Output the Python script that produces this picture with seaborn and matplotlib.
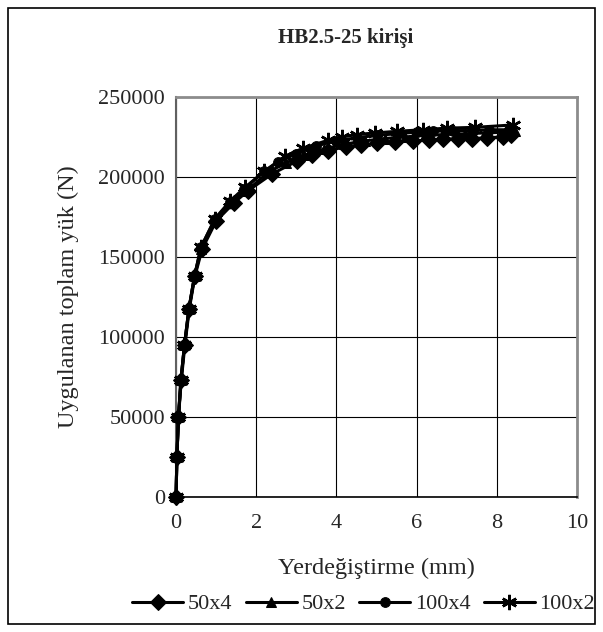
import matplotlib
matplotlib.use('Agg')
import matplotlib.pyplot as plt
import seaborn as sns
import pandas as pd
from matplotlib.patches import Rectangle

# Data (displacement in mm, total load in N)
x_50x4 = [0, 0.02, 0.06, 0.13, 0.22, 0.33, 0.47, 0.65, 1.0, 1.45, 1.8, 2.4, 3.02, 3.4, 3.8,
          4.25, 4.6, 5.0, 5.45, 5.9, 6.3, 6.65, 7.03, 7.38, 7.75, 8.15, 8.35]
y_50x4 = [0, 25000, 50000, 73000, 95000, 117500, 138000, 155000, 172500, 184000, 191500, 202000,
          210000, 213500, 216500, 219000, 220000, 221000, 222000, 222500, 223000, 223500, 224000,
          224000, 224500, 225000, 226000]

x_50x2 = [0, 0.02, 0.06, 0.12, 0.21, 0.32, 0.46, 0.63, 0.98, 1.4, 1.75, 2.3, 2.75, 3.2, 3.7,
          4.2, 4.7, 5.2, 5.7, 6.2, 6.7, 7.2, 7.7, 8.2, 8.45]
y_50x2 = [0, 25000, 50000, 73000, 95000, 117500, 138000, 155000, 173000, 184500, 191000, 203000,
          209000, 213500, 217500, 220500, 222500, 224000, 225000, 226000, 226500, 227000, 227500,
          228000, 228500]

x_100x4 = [0, 0.02, 0.06, 0.12, 0.21, 0.32, 0.46, 0.62, 0.97, 1.35, 1.7, 2.2, 2.55, 3.0, 3.5,
           4.0, 4.5, 5.0, 5.5, 6.0, 6.4, 6.9, 7.4, 7.8, 8.3]
y_100x4 = [0, 25000, 50000, 73000, 95000, 117500, 138000, 156000, 173500, 184500, 192500, 203500,
           209500, 214500, 219500, 222500, 224500, 226000, 227000, 228000, 228500, 229000, 229000,
           229500, 229500]

x_100x2 = [0, 0.02, 0.06, 0.12, 0.21, 0.32, 0.46, 0.62, 0.97, 1.35, 1.72, 2.2, 2.72, 3.17, 3.8,
           4.15, 4.5, 4.96, 5.5, 6.15, 6.75, 7.45, 8.4]
y_100x2 = [0, 25000, 50000, 73000, 95000, 117500, 138000, 156000, 174000, 185000, 193500, 203500,
           213000, 218000, 223000, 225000, 226500, 227500, 228500, 229500, 230500, 231000, 232500]

series_names = ['50x4', '50x2', '100x4', '100x2']
xs = [x_50x4, x_50x2, x_100x4, x_100x2]
ys = [y_50x4, y_50x2, y_100x4, y_100x2]

x_ticks = [0, 2, 4, 6, 8, 10]
y_ticks = [0, 50000, 100000, 150000, 200000, 250000]

sns.set_style('white')
plt.rcParams['font.family'] = ['Liberation Serif', 'DejaVu Serif']

fig = plt.figure(figsize=(6.03, 6.32), dpi=100)
ax = fig.add_axes([0.292, 0.2136, 0.665, 0.633])

# marker styles per series
styles = {
    '50x4': dict(marker='D', markersize=8),
    '50x2': dict(marker='^', markersize=7),
    '100x4': dict(marker='o', markersize=7),
    '100x2': dict(marker=(6, 2, 0), markersize=11, markeredgewidth=1.8),
}

for name, xv, yv in zip(series_names, xs, ys):
    df = pd.DataFrame({'x': xv, 'y': yv})
    sns.lineplot(data=df, x='x', y='y', ax=ax, color='black', linewidth=2.2, sort=False,
                 markerfacecolor='black', markeredgecolor='black', label=name,
                 clip_on=False, zorder=5, **styles[name])

ax.set_xlim(0, 10)
ax.set_ylim(0, 250000)
ax.set_xticks(x_ticks)
ax.set_yticks(y_ticks)
ax.set_xticklabels([str(t) for t in x_ticks])
ax.set_yticklabels([str(t) for t in y_ticks])
ax.grid(True, color='black', linewidth=0.8)
ax.tick_params(axis='both', which='both', direction='out', length=5, width=1,
               color='black', labelsize=16, pad=3)
ax.tick_params(axis='x', pad=7)
for side in ['top', 'right']:
    ax.spines[side].set_color('#8c8c8c')
    ax.spines[side].set_linewidth(2)
ax.spines['left'].set_color('#606060')
ax.spines['left'].set_linewidth(1.5)
ax.spines['bottom'].set_color('black')
ax.spines['bottom'].set_linewidth(1.2)

ax.set_xlabel('Yerdeğiştirme (mm)', fontsize=17.5, labelpad=18)
ax.set_ylabel('Uygulanan toplam yük (N)', fontsize=17.5, labelpad=14)
fig.text(0.5735, 0.94, 'HB2.5-25 kirişi', ha='center', va='center',
         fontsize=15, fontweight='bold')

handles, labels = ax.get_legend_handles_labels()
ax.legend_.remove()
fig.legend(handles, labels, loc='center', bbox_to_anchor=(0.603, 0.044), ncol=4,
           frameon=False, fontsize=16, handlelength=2.3, handletextpad=0.2,
           columnspacing=0.6, borderpad=0.1)

# outer chart border
fig.patches.append(Rectangle((0.014, 0.012), 0.973, 0.975, transform=fig.transFigure,
                             fill=False, edgecolor='black', linewidth=1.2))

fig.savefig('out.png', dpi=100)
